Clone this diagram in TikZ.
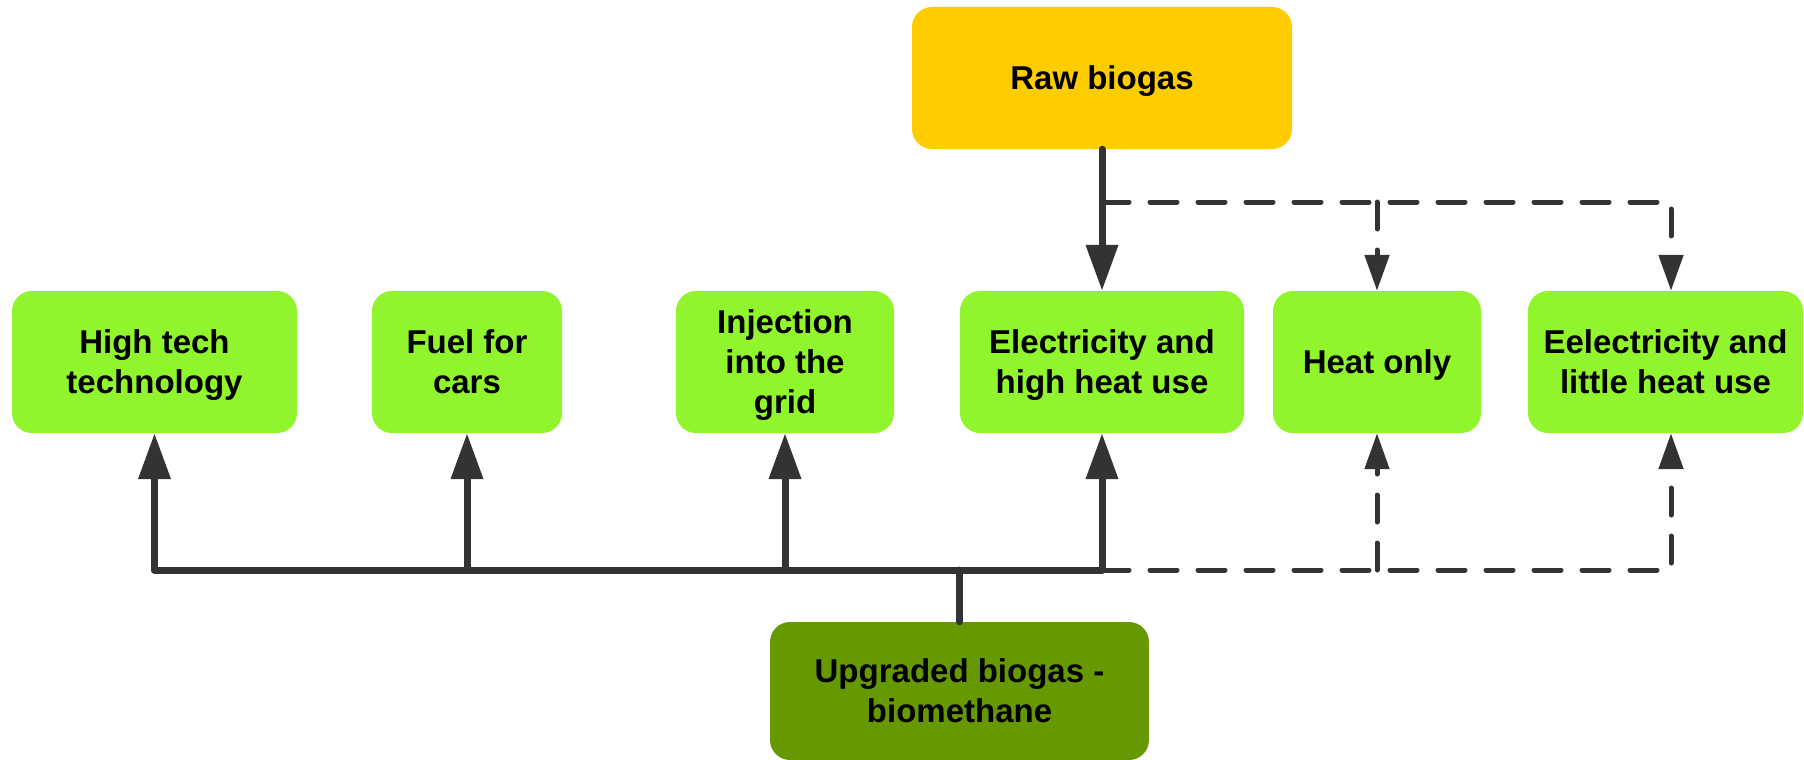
\documentclass[tikz,border=0pt]{standalone}
\usepackage{fontspec}
\setmainfont{Liberation Sans}
\usetikzlibrary{arrows.meta}
\definecolor{rawyellow}{HTML}{FFCC00}
\definecolor{usegreen}{HTML}{90F52C}
\definecolor{upgreen}{HTML}{669900}
\definecolor{wire}{HTML}{333333}
\begin{document}
\begin{tikzpicture}[x=1pt,y=-1pt,
  box/.style={rounded corners=20pt, minimum height=142pt, align=center,
    inner sep=0pt, text depth=0pt, text=black,
    font=\fontsize{33}{40}\selectfont\bfseries},
  usebox/.style={box, fill=usegreen},
  flow/.style={draw=wire, line width=7pt, line cap=round, line join=round},
  alt/.style={draw=wire, line width=5pt, dash pattern=on 27pt off 21pt,
    line cap=round, line join=round},
  bigtip/.style={-{Triangle[length=46pt,width=31pt]}},
  smalltip/.style={-{Triangle[length=36pt,width=24pt]}}
]
\useasboundingbox (0,0) rectangle (1804,760);

% source and upgraded gas
\node[box, fill=rawyellow, minimum width=380pt] (raw) at (1102,78) {Raw biogas};
\node[box, fill=upgreen, minimum width=379pt, minimum height=138pt] (upg) at (959.5,691)
  {Upgraded biogas -\\biomethane};

% uses
\node[usebox, minimum width=285pt] (tech)   at (154.5,362) {High tech\\technology};
\node[usebox, minimum width=190pt] (fuel)   at (467,362)   {Fuel for\\cars};
\node[usebox, minimum width=218pt] (inject) at (785,362)   {Injection\\into the\\grid};
\node[usebox, minimum width=284pt] (elec)   at (1102,362)  {Electricity and\\high heat use};
\node[usebox, minimum width=208pt] (heat)   at (1377,362)  {Heat only};
\node[usebox, minimum width=275pt] (eel)    at (1665.5,362) {Eelectricity and\\little heat use};

% junction levels
\coordinate (bus) at (0,570);
\coordinate (split) at (0,202);
\coordinate (eelx) at (1671,0);

% raw biogas branches
\draw[flow, bigtip] (raw.south) -- (elec.north);
\draw[alt, smalltip] (raw.south |- split) -| (eelx |- eel.north);
\draw[alt, smalltip] (heat.north |- split) -- (heat.north);

% upgraded biogas bus
\draw[flow] (upg.north) -- (upg.north |- bus);
\draw[flow] (tech.south |- bus) -- (elec.south |- bus);
\foreach \n in {tech,fuel,inject,elec}
  \draw[flow, bigtip] (\n.south |- bus) -- (\n.south);
\draw[alt, smalltip] (elec.south |- bus) -| (eelx |- eel.south);
\draw[alt, smalltip] (heat.south |- bus) -- (heat.south);
\end{tikzpicture}
\end{document}
